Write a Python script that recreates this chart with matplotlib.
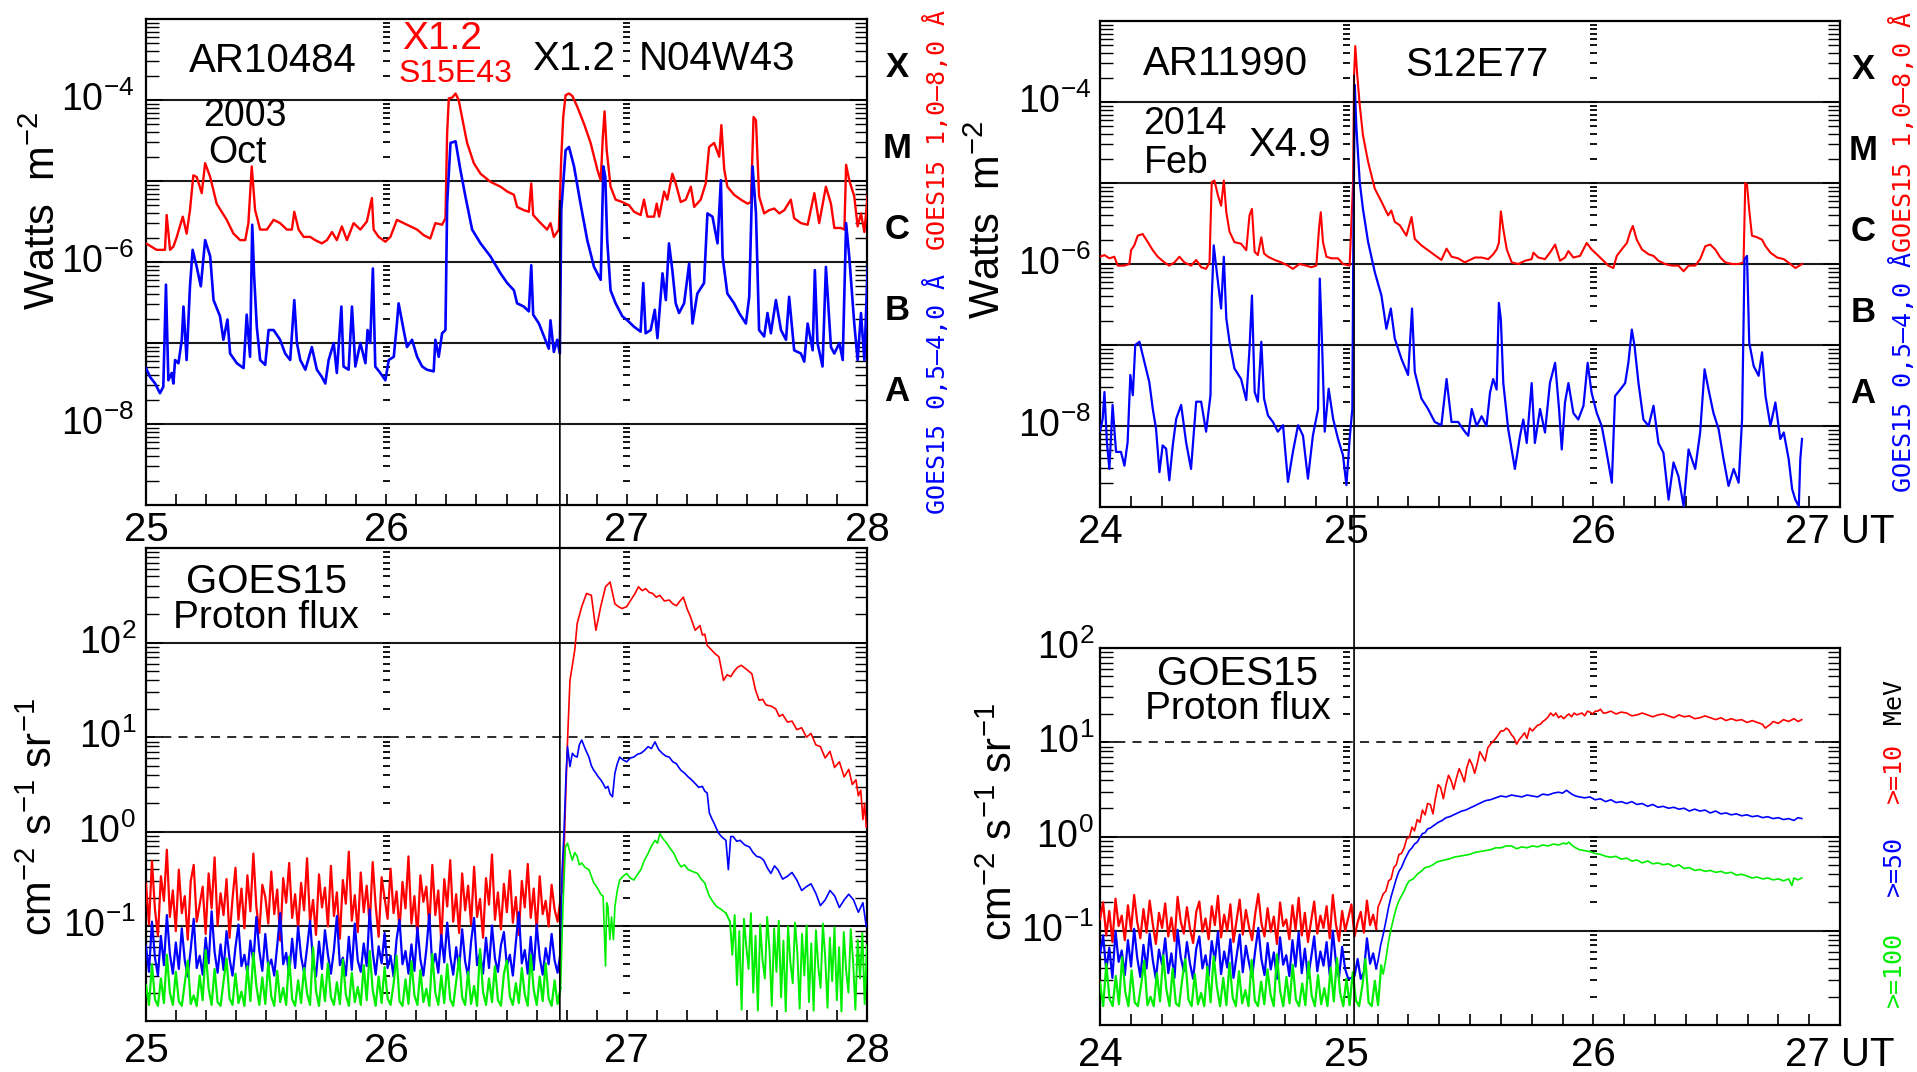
import numpy as np
import matplotlib.pyplot as plt
from matplotlib import transforms
from matplotlib.patches import ConnectionPatch
from matplotlib.ticker import LogLocator, NullFormatter, MultipleLocator

plt.rcParams['font.family'] = ['Liberation Sans', 'DejaVu Sans']
plt.rcParams['mathtext.fontset'] = 'custom'
plt.rcParams['mathtext.rm'] = 'Liberation Sans'
plt.rcParams['mathtext.it'] = 'Liberation Sans:italic'
plt.rcParams['mathtext.bf'] = 'Liberation Sans:bold'

RED, BLUE, GREEN = '#ff0000', '#0000ff', '#00ee00'

# ---------------- GOES15 X-ray flux, 2003 Oct 25-28 (log10 W m^-2) ----------------
tl_red_t = [25.000, 25.044, 25.079, 25.086, 25.100, 25.114, 25.128, 25.153, 25.169, 25.183,
            25.197, 25.211, 25.232, 25.246, 25.267, 25.294, 25.336, 25.364, 25.392, 25.413,
            25.426, 25.440, 25.454, 25.475, 25.503, 25.531, 25.558, 25.586, 25.607, 25.617,
            25.635, 25.656, 25.683, 25.704, 25.732, 25.753, 25.774, 25.794, 25.815, 25.836,
            25.864, 25.892, 25.919, 25.940, 25.947, 25.968, 25.996, 26.017, 26.044, 26.072,
            26.100, 26.128, 26.156, 26.183, 26.204, 26.232, 26.246, 26.253, 26.260, 26.274,
            26.288, 26.301, 26.315, 26.336, 26.364, 26.392, 26.433, 26.475, 26.503, 26.531,
            26.544, 26.572, 26.593, 26.603, 26.611, 26.642, 26.669, 26.683, 26.697, 26.718,
            26.728, 26.736, 26.746, 26.760, 26.774, 26.794, 26.822, 26.850, 26.878, 26.892,
            26.901, 26.908, 26.917, 26.933, 26.954, 26.982, 27.010, 27.031, 27.058, 27.072,
            27.086, 27.114, 27.125, 27.135, 27.156, 27.169, 27.190, 27.204, 27.225, 27.246,
            27.267, 27.281, 27.308, 27.329, 27.343, 27.364, 27.385, 27.394, 27.406, 27.419,
            27.447, 27.475, 27.503, 27.517, 27.528, 27.538, 27.551, 27.572, 27.593, 27.614,
            27.635, 27.656, 27.683, 27.697, 27.725, 27.753, 27.781, 27.801, 27.829, 27.850,
            27.864, 27.892, 27.906, 27.913, 27.926, 27.947, 27.961, 27.975, 27.989, 28.003]
tl_red = [-5.77, -5.85, -5.85, -5.42, -5.85, -5.81, -5.69, -5.44, -5.65, -5.36,
          -4.93, -4.95, -5.15, -4.78, -4.95, -5.28, -5.48, -5.65, -5.73, -5.73,
          -5.52, -4.82, -5.36, -5.60, -5.60, -5.48, -5.52, -5.60, -5.60, -5.38,
          -5.60, -5.69, -5.69, -5.73, -5.77, -5.73, -5.63, -5.73, -5.56, -5.73,
          -5.52, -5.60, -5.50, -5.21, -5.60, -5.69, -5.75, -5.69, -5.48, -5.52,
          -5.56, -5.60, -5.67, -5.71, -5.52, -5.54, -5.46, -4.41, -3.98, -3.97,
          -3.92, -4.00, -4.21, -4.53, -4.78, -4.91, -5.01, -5.07, -5.13, -5.17,
          -5.32, -5.36, -5.38, -5.03, -5.42, -5.52, -5.60, -5.52, -5.69, -5.60,
          -4.70, -4.21, -3.94, -3.92, -3.95, -4.08, -4.29, -4.53, -4.86, -4.99,
          -4.45, -4.14, -4.62, -5.07, -5.23, -5.26, -5.30, -5.38, -5.42, -5.23,
          -5.44, -5.44, -5.28, -5.44, -5.13, -5.23, -4.91, -5.03, -5.26, -5.23,
          -5.07, -5.32, -5.23, -5.03, -4.58, -4.53, -4.70, -4.31, -4.86, -5.07,
          -5.17, -5.23, -5.28, -5.26, -4.21, -4.25, -5.19, -5.40, -5.36, -5.34,
          -5.40, -5.36, -5.23, -5.46, -5.52, -5.54, -5.15, -5.52, -5.07, -5.28,
          -5.58, -5.58, -5.60, -4.80, -4.99, -5.19, -5.56, -5.40, -5.63, -5.17]

tl_blue_t = [25.000, 25.017, 25.038, 25.058, 25.072, 25.083, 25.093, 25.107, 25.114, 25.121,
             25.135, 25.149, 25.156, 25.169, 25.183, 25.194, 25.211, 25.228, 25.246, 25.267,
             25.281, 25.308, 25.322, 25.339, 25.350, 25.378, 25.406, 25.419, 25.433, 25.442,
             25.450, 25.461, 25.475, 25.496, 25.510, 25.531, 25.558, 25.579, 25.600, 25.617,
             25.628, 25.642, 25.663, 25.690, 25.711, 25.732, 25.746, 25.760, 25.781, 25.794,
             25.813, 25.822, 25.843, 25.857, 25.871, 25.892, 25.913, 25.922, 25.933, 25.944,
             25.954, 25.975, 25.996, 26.010, 26.031, 26.044, 26.051, 26.072, 26.086, 26.107,
             26.128, 26.149, 26.169, 26.197, 26.204, 26.218, 26.232, 26.246, 26.253, 26.267,
             26.288, 26.308, 26.329, 26.357, 26.392, 26.433, 26.475, 26.503, 26.531, 26.544,
             26.572, 26.593, 26.603, 26.611, 26.635, 26.656, 26.676, 26.683, 26.697, 26.711,
             26.722, 26.728, 26.746, 26.760, 26.781, 26.808, 26.836, 26.864, 26.892, 26.903,
             26.911, 26.919, 26.933, 26.954, 26.982, 27.003, 27.031, 27.058, 27.069, 27.079,
             27.100, 27.117, 27.128, 27.149, 27.163, 27.176, 27.190, 27.204, 27.218, 27.239,
             27.260, 27.274, 27.294, 27.322, 27.336, 27.357, 27.378, 27.392, 27.399, 27.419,
             27.447, 27.468, 27.496, 27.510, 27.524, 27.538, 27.551, 27.572, 27.586, 27.600,
             27.621, 27.642, 27.663, 27.676, 27.697, 27.725, 27.739, 27.753, 27.774, 27.783,
             27.794, 27.815, 27.829, 27.850, 27.864, 27.885, 27.899, 27.913, 27.926, 27.947,
             27.961, 27.975, 27.989, 28.003]
tl_blue = [-7.31, -7.42, -7.50, -7.62, -7.54, -6.28, -7.46, -7.37, -7.50, -7.21,
           -7.25, -6.96, -6.55, -7.21, -6.30, -5.85, -6.06, -6.30, -5.73, -5.93,
           -6.47, -6.67, -6.96, -6.71, -7.13, -7.25, -7.31, -6.65, -7.17, -5.54,
           -6.18, -6.80, -7.21, -7.27, -6.84, -6.84, -6.96, -7.13, -7.21, -6.47,
           -7.00, -7.21, -7.33, -7.05, -7.33, -7.42, -7.50, -7.21, -7.00, -7.37,
           -6.55, -7.29, -7.33, -6.55, -7.29, -7.00, -7.25, -6.84, -7.00, -6.08,
           -7.29, -7.37, -7.46, -7.21, -7.17, -6.76, -6.51, -6.84, -7.05, -6.96,
           -7.17, -7.29, -7.33, -7.35, -6.96, -7.17, -6.88, -6.84, -5.28, -4.53,
           -4.51, -4.86, -5.19, -5.60, -5.77, -5.93, -6.14, -6.26, -6.35, -6.51,
           -6.55, -6.61, -6.04, -6.65, -6.76, -6.92, -7.07, -6.72, -7.11, -6.96,
           -7.13, -5.36, -4.62, -4.58, -4.82, -5.28, -5.73, -6.06, -6.22, -4.82,
           -4.95, -5.73, -6.35, -6.51, -6.67, -6.72, -6.80, -6.86, -6.26, -6.88,
           -6.84, -6.59, -6.94, -6.14, -6.47, -5.77, -6.10, -6.51, -6.63, -6.51,
           -6.02, -6.76, -6.39, -6.26, -5.40, -5.44, -5.77, -4.99, -5.93, -6.39,
           -6.51, -6.63, -6.76, -6.43, -4.82, -5.40, -6.84, -6.92, -6.63, -6.88,
           -6.47, -6.84, -6.96, -6.43, -7.09, -7.13, -7.23, -6.76, -7.09, -6.10,
           -7.00, -7.29, -6.06, -7.05, -7.13, -7.00, -7.21, -5.52, -5.93, -6.76,
           -7.21, -6.63, -7.21, -6.06]

# ---------------- GOES15 X-ray flux, 2014 Feb 24-27 (log10 W m^-2) ----------------
tr_red_t = [24.000, 24.018, 24.038, 24.058, 24.072, 24.099, 24.119, 24.126, 24.139, 24.153,
            24.173, 24.194, 24.214, 24.234, 24.261, 24.281, 24.302, 24.322, 24.342, 24.369,
            24.390, 24.410, 24.430, 24.444, 24.453, 24.464, 24.478, 24.491, 24.502, 24.512,
            24.525, 24.545, 24.572, 24.593, 24.606, 24.616, 24.627, 24.640, 24.654, 24.665,
            24.681, 24.708, 24.735, 24.762, 24.782, 24.809, 24.836, 24.857, 24.877, 24.888,
            24.895, 24.904, 24.918, 24.938, 24.965, 24.985, 25.012, 25.026, 25.030, 25.035,
            25.043, 25.053, 25.066, 25.087, 25.114, 25.141, 25.168, 25.181, 25.195, 25.215,
            25.242, 25.263, 25.276, 25.303, 25.330, 25.357, 25.384, 25.405, 25.425, 25.452,
            25.479, 25.493, 25.520, 25.547, 25.574, 25.594, 25.608, 25.617, 25.625, 25.635,
            25.649, 25.669, 25.696, 25.723, 25.750, 25.757, 25.777, 25.804, 25.824, 25.845,
            25.865, 25.885, 25.899, 25.919, 25.946, 25.973, 25.993, 26.014, 26.034, 26.061,
            26.081, 26.095, 26.115, 26.136, 26.149, 26.160, 26.176, 26.197, 26.224, 26.244,
            26.264, 26.291, 26.318, 26.345, 26.366, 26.386, 26.413, 26.433, 26.454, 26.474,
            26.494, 26.515, 26.535, 26.562, 26.589, 26.609, 26.616, 26.623, 26.632, 26.643,
            26.664, 26.684, 26.698, 26.718, 26.745, 26.772, 26.799, 26.819, 26.846]
tr_red = [-5.91, -5.89, -5.93, -5.91, -6.02, -6.02, -6.00, -5.83, -5.77, -5.65,
          -5.63, -5.73, -5.83, -5.91, -5.98, -6.02, -5.98, -5.91, -5.98, -6.02,
          -5.95, -6.04, -6.06, -5.98, -4.99, -4.97, -5.15, -5.28, -4.97, -5.36,
          -5.60, -5.73, -5.75, -5.83, -5.40, -5.32, -5.85, -5.89, -5.67, -5.87,
          -5.91, -5.95, -5.98, -6.02, -6.06, -6.00, -6.02, -6.04, -6.02, -5.56,
          -5.36, -5.73, -5.91, -5.93, -5.93, -6.00, -6.02, -4.99, -3.67, -3.31,
          -3.67, -4.04, -4.41, -4.74, -5.07, -5.23, -5.40, -5.34, -5.48, -5.52,
          -5.65, -5.42, -5.69, -5.77, -5.83, -5.89, -5.95, -5.81, -5.91, -5.93,
          -5.98, -5.96, -5.92, -5.92, -5.94, -5.88, -5.82, -5.74, -5.35, -5.57,
          -5.82, -5.98, -6.00, -5.96, -5.94, -5.86, -5.92, -5.94, -5.86, -5.76,
          -5.96, -5.92, -5.84, -5.92, -5.90, -5.74, -5.82, -5.88, -5.94, -6.02,
          -6.05, -5.90, -5.82, -5.74, -5.61, -5.53, -5.70, -5.82, -5.88, -5.90,
          -5.96, -6.00, -6.02, -6.02, -6.09, -6.02, -6.02, -5.94, -5.78, -5.76,
          -5.82, -5.92, -5.98, -6.00, -6.00, -5.98, -5.00, -5.02, -5.33, -5.65,
          -5.67, -5.70, -5.78, -5.86, -5.92, -5.94, -6.00, -6.05, -6.00]

tr_blue_t = [24.000, 24.011, 24.018, 24.028, 24.038, 24.051, 24.065, 24.085, 24.099, 24.112,
             24.123, 24.133, 24.143, 24.160, 24.180, 24.200, 24.214, 24.227, 24.241, 24.254,
             24.268, 24.281, 24.295, 24.309, 24.329, 24.349, 24.369, 24.390, 24.410, 24.430,
             24.448, 24.453, 24.461, 24.475, 24.491, 24.502, 24.512, 24.525, 24.545, 24.572,
             24.593, 24.606, 24.616, 24.627, 24.640, 24.654, 24.665, 24.681, 24.701, 24.721,
             24.742, 24.762, 24.782, 24.803, 24.823, 24.843, 24.863, 24.884, 24.891, 24.900,
             24.911, 24.927, 24.945, 24.965, 24.985, 24.999, 25.012, 25.023, 25.027, 25.033,
             25.039, 25.053, 25.066, 25.087, 25.114, 25.141, 25.161, 25.179, 25.195, 25.222,
             25.249, 25.265, 25.276, 25.303, 25.330, 25.357, 25.384, 25.405, 25.425, 25.452,
             25.479, 25.493, 25.507, 25.527, 25.547, 25.567, 25.581, 25.594, 25.608, 25.617,
             25.625, 25.635, 25.655, 25.669, 25.682, 25.703, 25.716, 25.730, 25.750, 25.763,
             25.784, 25.804, 25.824, 25.845, 25.861, 25.872, 25.885, 25.899, 25.919, 25.939,
             25.960, 25.977, 25.993, 26.014, 26.034, 26.054, 26.075, 26.088, 26.109, 26.129,
             26.142, 26.156, 26.167, 26.183, 26.203, 26.224, 26.244, 26.264, 26.284, 26.305,
             26.325, 26.345, 26.366, 26.386, 26.413, 26.433, 26.451, 26.467, 26.487, 26.508,
             26.528, 26.548, 26.569, 26.589, 26.603, 26.613, 26.623, 26.632, 26.650, 26.670,
             26.684, 26.698, 26.718, 26.738, 26.758, 26.772, 26.792, 26.806, 26.819, 26.833,
             26.839, 26.846]
tr_blue = [-8.07, -7.91, -7.58, -8.20, -8.53, -7.74, -8.32, -8.32, -8.49, -8.20,
           -7.37, -7.62, -7.00, -6.96, -7.21, -7.46, -7.79, -8.03, -8.57, -8.24,
           -8.28, -8.67, -8.24, -7.91, -7.74, -8.20, -8.53, -7.70, -7.70, -8.07,
           -7.62, -6.43, -5.77, -6.14, -6.55, -5.91, -6.67, -6.96, -7.29, -7.42,
           -7.68, -7.05, -6.39, -7.58, -7.70, -6.96, -7.66, -7.87, -7.95, -8.07,
           -7.99, -8.69, -8.32, -7.99, -8.12, -8.65, -8.12, -7.79, -6.18, -6.96,
           -8.07, -7.54, -7.91, -8.16, -8.36, -8.73, -8.16, -7.79, -5.73, -3.79,
           -4.29, -4.99, -5.32, -5.73, -6.10, -6.39, -6.80, -6.55, -6.92, -7.17,
           -7.37, -6.55, -7.33, -7.66, -7.79, -7.95, -7.99, -7.42, -7.95, -7.95,
           -8.07, -8.12, -7.79, -8.00, -7.88, -8.00, -7.59, -7.42, -7.55, -6.48,
           -6.68, -7.47, -8.04, -8.29, -8.53, -8.12, -7.92, -8.21, -7.47, -8.21,
           -7.79, -8.08, -7.47, -7.22, -7.79, -8.29, -7.71, -7.47, -7.84, -7.92,
           -7.75, -7.22, -7.59, -7.84, -8.00, -8.33, -8.70, -7.63, -7.55, -7.47,
           -7.22, -6.81, -7.01, -7.47, -7.92, -8.00, -7.75, -8.21, -8.33, -8.91,
           -8.45, -8.62, -8.99, -8.29, -8.53, -8.08, -7.30, -7.55, -7.84, -8.04,
           -8.41, -8.74, -8.53, -8.70, -7.92, -5.94, -5.90, -6.97, -7.26, -7.38,
           -7.09, -7.63, -8.00, -7.71, -8.16, -8.08, -8.41, -8.78, -8.91, -8.99,
           -8.41, -8.16]

# ---------------- GOES15 proton flux, 2003 Oct (log10 cm^-2 s^-1 sr^-1) ----------------
bl_red_bg = [-0.55, -0.98, -0.31, -0.82, -1.10, -0.47, -0.73, -0.19, -0.90, -0.62, -1.05, -0.40, -0.86, -0.68, -1.14, -0.52, -0.35, -0.95, -0.77, -0.58,
             -1.08, -0.44, -0.81, -0.27, -0.99, -0.65, -0.88, -0.50, -1.12, -0.71, -0.38, -0.93, -0.60, -1.02, -0.46, -0.84, -0.23, -0.79, -1.07, -0.56,
             -0.69, -0.97, -0.42, -0.87, -0.61, -1.15, -0.49, -0.75, -0.33, -0.91, -0.66, -1.03, -0.54, -0.83, -0.28, -0.96, -0.72, -1.09, -0.45, -0.80,
             -0.59, -1.00, -0.36, -0.89, -0.64, -1.13, -0.51, -0.76, -0.21, -0.94, -0.67, -1.06, -0.43, -0.85, -0.57, -0.99, -0.32, -0.78, -1.11, -0.48,
             -0.70, -0.92, -0.39, -0.86, -0.63, -1.04, -0.53, -0.81, -0.26, -0.97, -0.68, -1.10, -0.46, -0.74, -0.58, -1.01, -0.35, -0.88, -0.62, -1.16,
             -0.50, -0.79, -0.30, -0.95, -0.66, -1.07, -0.44, -0.83, -0.57, -0.98, -0.37, -0.90, -0.71, -1.12, -0.49, -0.77, -0.24, -0.93, -0.64, -1.03,
             -0.55, -0.85, -0.41, -0.96, -0.69, -1.09, -0.52, -0.80, -0.34, -0.91, -0.60, -1.05, -0.47, -0.87, -0.73, -1.00, -0.56, -0.82, -0.95, -0.70]
bl_blue_bg = [-1.21, -1.48, -0.95, -1.33, -1.52, -1.10, -1.41, -0.88, -1.29, -1.50, -1.17, -1.45, -1.02, -1.36, -1.53, -1.24, -0.92, -1.44, -1.31, -1.51,
              -1.12, -1.39, -0.84, -1.27, -1.49, -1.19, -1.46, -1.05, -1.34, -1.52, -1.22, -0.98, -1.42, -1.30, -1.50, -1.15, -1.38, -0.90, -1.26, -1.47,
              -1.08, -1.43, -1.35, -1.52, -1.20, -0.86, -1.40, -1.28, -1.51, -1.13, -1.44, -1.00, -1.32, -1.49, -1.23, -0.94, -1.37, -1.53, -1.16, -1.45,
              -1.04, -1.30, -1.50, -1.25, -0.89, -1.41, -1.33, -1.52, -1.11, -1.46, -0.97, -1.36, -1.48, -1.18, -1.42, -0.82, -1.27, -1.51, -1.21, -1.39,
              -1.07, -1.44, -1.31, -1.53, -1.14, -0.93, -1.40, -1.26, -1.50, -1.19, -1.47, -1.01, -1.35, -1.52, -1.24, -0.87, -1.43, -1.29, -1.49, -1.09,
              -1.38, -0.96, -1.32, -1.51, -1.22, -1.45, -1.03, -1.37, -1.53, -1.16, -0.91, -1.41, -1.28, -1.50, -1.12, -1.44, -0.99, -1.34, -1.48, -1.20,
              -1.06, -1.42, -1.30, -1.52, -1.17, -0.85, -1.39, -1.25, -1.50, -1.11, -1.46, -0.98, -1.33, -1.51, -1.23, -1.40, -1.08, -1.36, -1.49, -1.27]
bl_green_bg = [-1.62, -1.83, -1.40, -1.77, -1.84, -1.55, -1.81, -1.30, -1.70, -1.83, -1.48, -1.79, -1.84, -1.60, -1.36, -1.82, -1.73, -1.84, -1.52, -1.78,
               -1.25, -1.66, -1.83, -1.45, -1.80, -1.84, -1.58, -1.34, -1.76, -1.83, -1.50, -1.81, -1.69, -1.84, -1.42, -1.79, -1.28, -1.63, -1.83, -1.54,
               -1.82, -1.38, -1.74, -1.84, -1.47, -1.80, -1.65, -1.83, -1.32, -1.77, -1.84, -1.57, -1.81, -1.44, -1.71, -1.83, -1.22, -1.68, -1.84, -1.51,
               -1.79, -1.39, -1.75, -1.83, -1.59, -1.82, -1.35, -1.72, -1.84, -1.49, -1.80, -1.64, -1.83, -1.41, -1.78, -1.26, -1.67, -1.84, -1.53, -1.81,
               -1.43, -1.76, -1.83, -1.61, -1.31, -1.79, -1.84, -1.56, -1.82, -1.37, -1.73, -1.83, -1.46, -1.80, -1.66, -1.84, -1.29, -1.70, -1.83, -1.52,
               -1.81, -1.40, -1.77, -1.84, -1.58, -1.33, -1.75, -1.83, -1.48, -1.82, -1.63, -1.84, -1.24, -1.69, -1.83, -1.55, -1.80, -1.42, -1.78, -1.84,
               -1.50, -1.36, -1.74, -1.83, -1.60, -1.81, -1.44, -1.72, -1.84, -1.30, -1.67, -1.83, -1.53, -1.79, -1.39, -1.76, -1.84, -1.57, -1.82, -1.65]
bl_quiet_span = (25.0, 26.725)

bl_red_ev_t = [26.735, 26.745, 26.754, 26.764, 26.784, 26.794, 26.813, 26.833, 26.853, 26.872,
               26.892, 26.912, 26.931, 26.951, 26.966, 26.981, 27.000, 27.020, 27.035, 27.049,
               27.064, 27.079, 27.094, 27.108, 27.123, 27.138, 27.157, 27.177, 27.192, 27.207,
               27.222, 27.236, 27.251, 27.266, 27.285, 27.305, 27.315, 27.325, 27.335, 27.354,
               27.369, 27.384, 27.403, 27.418, 27.433, 27.448, 27.462, 27.477, 27.492, 27.507,
               27.521, 27.536, 27.551, 27.566, 27.580, 27.600, 27.620, 27.635, 27.649, 27.669,
               27.688, 27.708, 27.728, 27.748, 27.767, 27.787, 27.806, 27.826, 27.846, 27.865,
               27.885, 27.905, 27.924, 27.939, 27.954, 27.964, 27.974, 27.983, 27.990, 27.997]
bl_red_ev = [-0.61, 0.27, 0.97, 1.60, 1.92, 2.20, 2.38, 2.52, 2.50, 2.13,
             2.38, 2.59, 2.64, 2.41, 2.38, 2.36, 2.38, 2.46, 2.52, 2.59,
             2.55, 2.57, 2.53, 2.52, 2.48, 2.50, 2.44, 2.45, 2.41, 2.39,
             2.44, 2.48, 2.36, 2.27, 2.13, 2.18, 2.08, 2.09, 1.97, 1.92,
             1.88, 1.85, 1.60, 1.66, 1.64, 1.70, 1.74, 1.76, 1.73, 1.70,
             1.67, 1.50, 1.39, 1.40, 1.34, 1.33, 1.30, 1.22, 1.24, 1.16,
             1.17, 1.08, 1.10, 1.00, 1.04, 0.92, 0.90, 0.78, 0.85, 0.68,
             0.74, 0.58, 0.66, 0.50, 0.55, 0.38, 0.44, 0.13, 0.30, 0.05]

bl_blue_ev_t = [26.731, 26.739, 26.748, 26.754, 26.764, 26.774, 26.784, 26.794, 26.803, 26.813,
                26.827, 26.843, 26.853, 26.863, 26.872, 26.882, 26.892, 26.902, 26.912, 26.922,
                26.931, 26.941, 26.951, 26.961, 26.971, 26.985, 27.000, 27.015, 27.030, 27.045,
                27.059, 27.074, 27.089, 27.103, 27.118, 27.133, 27.148, 27.163, 27.177, 27.192,
                27.207, 27.217, 27.226, 27.241, 27.256, 27.270, 27.285, 27.300, 27.315, 27.325,
                27.335, 27.344, 27.354, 27.364, 27.374, 27.384, 27.398, 27.413, 27.423, 27.433,
                27.443, 27.458, 27.472, 27.492, 27.511, 27.526, 27.541, 27.556, 27.570, 27.585,
                27.600, 27.615, 27.629, 27.649, 27.669, 27.688, 27.708, 27.728, 27.748, 27.767,
                27.787, 27.806, 27.826, 27.846, 27.866, 27.885, 27.905, 27.924, 27.944, 27.964,
                27.983, 27.997]
bl_blue_ev = [-0.44, -0.02, 0.62, 0.90, 0.69, 0.83, 0.80, 0.79, 0.92, 0.97,
              0.88, 0.79, 0.70, 0.65, 0.62, 0.58, 0.55, 0.51, 0.46, 0.48,
              0.40, 0.37, 0.62, 0.72, 0.79, 0.76, 0.74, 0.78, 0.79, 0.82,
              0.83, 0.86, 0.90, 0.88, 0.95, 0.87, 0.83, 0.80, 0.79, 0.74,
              0.72, 0.68, 0.65, 0.62, 0.58, 0.55, 0.51, 0.47, 0.48, 0.43,
              0.41, 0.20, 0.14, 0.09, 0.03, -0.02, -0.06, -0.09, -0.40, -0.05,
              -0.05, -0.10, -0.09, -0.14, -0.16, -0.22, -0.26, -0.27, -0.30, -0.38,
              -0.44, -0.36, -0.40, -0.50, -0.47, -0.43, -0.51, -0.62, -0.58, -0.55,
              -0.65, -0.78, -0.72, -0.62, -0.68, -0.80, -0.72, -0.66, -0.72, -0.85,
              -0.75, -1.00]

bl_green_ev_t = [26.735, 26.745, 26.754, 26.764, 26.774, 26.784, 26.794, 26.803, 26.813, 26.828,
                 26.843, 26.853, 26.863, 26.872, 26.882, 26.892, 26.902, 26.912, 26.917, 26.922,
                 26.930, 26.937, 26.945, 26.951, 26.961, 26.971, 26.985, 27.000, 27.015, 27.030,
                 27.045, 27.059, 27.074, 27.089, 27.103, 27.118, 27.128, 27.138, 27.153, 27.167,
                 27.182, 27.197, 27.211, 27.226, 27.241, 27.256, 27.275, 27.295, 27.310, 27.325,
                 27.335, 27.344, 27.359, 27.374, 27.393, 27.413]
bl_green_ev = [-0.79, -0.16, -0.12, -0.22, -0.30, -0.22, -0.26, -0.35, -0.33, -0.38,
               -0.40, -0.47, -0.54, -0.57, -0.61, -0.66, -0.68, -1.42, -0.75, -0.79,
               -1.14, -0.90, -1.14, -0.79, -0.62, -0.51, -0.47, -0.44, -0.49, -0.51,
               -0.45, -0.40, -0.30, -0.23, -0.15, -0.09, -0.12, -0.02, -0.08, -0.12,
               -0.18, -0.23, -0.31, -0.37, -0.35, -0.40, -0.42, -0.44, -0.50, -0.54,
               -0.62, -0.68, -0.74, -0.79, -0.82, -0.86]
bl_green_tail = [-0.95, -1.30, -0.88, -1.62, -1.05, -1.88, -0.92, -1.21, -1.45, -0.86, -1.70, -1.10, -1.89, -0.98, -1.35,
                 -1.55, -0.90, -1.25, -1.84, -1.02, -1.48, -0.94, -1.75, -1.15, -1.90, -1.00, -1.38, -1.60, -0.96, -1.28,
                 -1.87, -1.08, -1.52, -0.99, -1.80, -1.18, -1.89, -1.04, -1.42, -1.65, -0.97, -1.33, -1.86, -1.12, -1.58,
                 -1.01, -1.78, -1.22, -1.90, -1.06, -1.46, -1.70, -1.03, -1.36, -1.88, -1.14, -1.55, -1.07, -1.82, -1.20]
bl_green_tail_span = (27.43, 28.0)

# ---------------- GOES15 proton flux, 2014 Feb (log10 cm^-2 s^-1 sr^-1) ----------------
br_red_bg = [-0.88, -0.70, -1.05, -0.79, -1.12, -0.66, -0.95, -0.84, -1.10, -0.73, -0.99, -0.62, -0.91, -1.08, -0.77, -1.02, -0.68, -0.93, -1.14, -0.81,
             -0.97, -0.71, -1.06, -0.86, -1.11, -0.64, -0.90, -1.03, -0.75, -0.98, -1.13, -0.80, -0.69, -1.01, -0.87, -1.09, -0.74, -0.94, -0.63, -1.07,
             -0.83, -1.00, -0.72, -1.12, -0.89, -0.67, -1.04, -0.78, -0.96, -1.10, -0.82, -0.61, -0.92, -1.06, -0.76, -1.01, -0.85, -1.14, -0.70, -0.95,
             -0.88, -1.09, -0.73, -0.99, -0.65, -1.05, -0.81, -1.12, -0.90, -0.69, -1.03, -0.84, -0.97, -0.74, -1.08, -0.62, -0.93, -1.11, -0.79, -1.00,
             -0.86, -0.72, -1.06, -0.91, -0.80, -1.02, -0.68, -0.94, -0.83, -0.98]
br_blue_bg = [-1.25, -1.05, -1.42, -1.18, -1.50, -1.00, -1.33, -1.21, -1.47, -1.10, -1.38, -0.98, -1.29, -1.49, -1.15, -1.40, -1.03, -1.31, -1.51, -1.20,
              -1.36, -1.08, -1.45, -1.24, -1.50, -0.99, -1.28, -1.43, -1.12, -1.35, -1.51, -1.19, -1.06, -1.40, -1.26, -1.48, -1.11, -1.32, -1.01, -1.46,
              -1.22, -1.39, -1.09, -1.50, -1.27, -1.04, -1.44, -1.16, -1.34, -1.49, -1.21, -0.97, -1.30, -1.47, -1.13, -1.41, -1.23, -1.51, -1.07, -1.36,
              -1.26, -1.48, -1.10, -1.38, -1.02, -1.45, -1.19, -1.50, -1.29, -1.06, -1.43, -1.22, -1.37, -1.12, -1.47, -1.00, -1.33, -1.50, -1.17, -1.41,
              -1.51, -1.50, -1.48, -1.30, -1.51, -1.44, -1.08, -1.35, -1.24, -1.40]
br_green_bg = [-1.55, -1.80, -1.35, -1.72, -1.80, -1.48, -1.78, -1.28, -1.65, -1.80, -1.42, -1.76, -1.80, -1.58, -1.32, -1.79, -1.70, -1.80, -1.45, -1.75,
               -1.26, -1.62, -1.80, -1.40, -1.77, -1.80, -1.52, -1.30, -1.73, -1.80, -1.46, -1.78, -1.66, -1.80, -1.38, -1.76, -1.27, -1.60, -1.80, -1.50,
               -1.79, -1.34, -1.71, -1.80, -1.43, -1.77, -1.63, -1.80, -1.31, -1.74, -1.80, -1.54, -1.78, -1.41, -1.68, -1.80, -1.25, -1.64, -1.80, -1.49,
               -1.77, -1.36, -1.73, -1.80, -1.56, -1.79, -1.33, -1.69, -1.80, -1.47, -1.78, -1.61, -1.80, -1.39, -1.75, -1.29, -1.66, -1.80, -1.51, -1.79,
               -1.44, -1.74, -1.80, -1.59, -1.30, -1.76, -1.80, -1.53, -1.79, -1.37]
br_quiet_span = (24.0, 25.12)
br_green_quiet_span = (24.0, 25.14)

br_red_ev_t = [25.127, 25.138, 25.148, 25.159, 25.170, 25.180, 25.191, 25.201, 25.212, 25.222,
               25.233, 25.244, 25.254, 25.265, 25.275, 25.286, 25.297, 25.307, 25.318, 25.328,
               25.339, 25.350, 25.360, 25.371, 25.381, 25.392, 25.403, 25.413, 25.424, 25.434,
               25.445, 25.456, 25.466, 25.477, 25.487, 25.498, 25.509, 25.519, 25.530, 25.540,
               25.551, 25.561, 25.572, 25.583, 25.594, 25.604, 25.615, 25.625, 25.636, 25.647,
               25.657, 25.668, 25.678, 25.689, 25.700, 25.710, 25.721, 25.731, 25.742, 25.753,
               25.763, 25.774, 25.785, 25.795, 25.806, 25.817, 25.827, 25.838, 25.848, 25.859,
               25.869, 25.880, 25.891, 25.901, 25.912, 25.922, 25.933, 25.944, 25.954, 25.965,
               25.976, 25.986, 25.997, 26.008, 26.018, 26.029, 26.040, 26.050, 26.071, 26.092,
               26.113, 26.135, 26.156, 26.177, 26.198, 26.220, 26.241, 26.262, 26.283, 26.305,
               26.326, 26.347, 26.368, 26.389, 26.411, 26.432, 26.453, 26.474, 26.496, 26.517,
               26.538, 26.559, 26.580, 26.601, 26.623, 26.644, 26.665, 26.686, 26.697, 26.707,
               26.718, 26.729, 26.750, 26.771, 26.792, 26.813, 26.830, 26.845]
br_red_ev = [-0.75, -0.68, -0.61, -0.58, -0.47, -0.45, -0.33, -0.30, -0.19, -0.18,
             -0.12, -0.02, -0.01, 0.10, 0.06, 0.18, 0.15, 0.28, 0.23, 0.35,
             0.34, 0.24, 0.41, 0.55, 0.52, 0.40, 0.55, 0.65, 0.59, 0.50,
             0.62, 0.72, 0.66, 0.58, 0.73, 0.82, 0.76, 0.67, 0.78, 0.90,
             0.85, 0.80, 0.94, 0.98, 1.01, 1.04, 1.08, 1.12, 1.12, 1.15,
             1.13, 1.08, 1.05, 0.98, 1.03, 1.06, 1.10, 1.04, 1.15, 1.12,
             1.15, 1.18, 1.19, 1.22, 1.24, 1.27, 1.31, 1.28, 1.31, 1.26,
             1.28, 1.25, 1.28, 1.30, 1.27, 1.31, 1.29, 1.30, 1.31, 1.28,
             1.33, 1.32, 1.30, 1.33, 1.33, 1.35, 1.31, 1.31, 1.33, 1.30,
             1.32, 1.31, 1.28, 1.29, 1.31, 1.29, 1.27, 1.29, 1.30, 1.28,
             1.26, 1.29, 1.27, 1.28, 1.25, 1.26, 1.28, 1.26, 1.24, 1.26,
             1.23, 1.25, 1.23, 1.24, 1.21, 1.23, 1.21, 1.19, 1.15, 1.17,
             1.19, 1.22, 1.20, 1.24, 1.22, 1.25, 1.22, 1.24]

br_blue_ev_t = [25.127, 25.138, 25.148, 25.159, 25.170, 25.180, 25.191, 25.201, 25.212, 25.222,
                25.233, 25.244, 25.254, 25.265, 25.275, 25.286, 25.297, 25.307, 25.318, 25.328,
                25.339, 25.355, 25.371, 25.387, 25.403, 25.418, 25.434, 25.450, 25.466, 25.482,
                25.498, 25.514, 25.530, 25.546, 25.562, 25.583, 25.604, 25.625, 25.647, 25.668,
                25.689, 25.710, 25.731, 25.752, 25.774, 25.795, 25.816, 25.838, 25.859, 25.875,
                25.891, 25.902, 25.912, 25.928, 25.944, 25.965, 25.986, 26.007, 26.029, 26.050,
                26.071, 26.092, 26.113, 26.135, 26.156, 26.177, 26.198, 26.220, 26.241, 26.262,
                26.283, 26.305, 26.326, 26.347, 26.368, 26.389, 26.411, 26.432, 26.453, 26.474,
                26.496, 26.517, 26.538, 26.559, 26.580, 26.601, 26.623, 26.644, 26.665, 26.686,
                26.707, 26.729, 26.750, 26.771, 26.792, 26.813, 26.830, 26.845]
br_blue_ev = [-1.32, -1.15, -1.04, -0.90, -0.75, -0.64, -0.54, -0.45, -0.37, -0.33,
              -0.26, -0.20, -0.15, -0.12, -0.08, -0.06, -0.01, 0.03, 0.04, 0.08,
              0.09, 0.12, 0.15, 0.17, 0.20, 0.21, 0.23, 0.25, 0.27, 0.28,
              0.30, 0.32, 0.34, 0.36, 0.38, 0.39, 0.41, 0.43, 0.42, 0.44,
              0.43, 0.42, 0.44, 0.43, 0.42, 0.45, 0.44, 0.46, 0.47, 0.46,
              0.49, 0.47, 0.45, 0.43, 0.42, 0.41, 0.42, 0.39, 0.40, 0.37,
              0.39, 0.36, 0.37, 0.35, 0.37, 0.34, 0.35, 0.32, 0.34, 0.31,
              0.32, 0.30, 0.31, 0.29, 0.30, 0.27, 0.29, 0.27, 0.28, 0.25,
              0.27, 0.24, 0.25, 0.23, 0.24, 0.22, 0.23, 0.21, 0.22, 0.20,
              0.21, 0.19, 0.20, 0.18, 0.19, 0.17, 0.20, 0.19]

br_green_ev_t = [25.148, 25.159, 25.170, 25.180, 25.191, 25.201, 25.212, 25.222, 25.233, 25.244,
                 25.254, 25.270, 25.286, 25.302, 25.318, 25.334, 25.350, 25.366, 25.381, 25.397,
                 25.413, 25.434, 25.456, 25.477, 25.498, 25.519, 25.540, 25.562, 25.583, 25.604,
                 25.625, 25.647, 25.668, 25.689, 25.710, 25.731, 25.753, 25.774, 25.795, 25.816,
                 25.838, 25.859, 25.880, 25.891, 25.901, 25.912, 25.928, 25.944, 25.965, 25.986,
                 26.007, 26.029, 26.050, 26.071, 26.092, 26.113, 26.135, 26.156, 26.177, 26.198,
                 26.220, 26.241, 26.262, 26.283, 26.305, 26.326, 26.347, 26.368, 26.389, 26.411,
                 26.432, 26.453, 26.474, 26.496, 26.517, 26.538, 26.559, 26.580, 26.601, 26.623,
                 26.644, 26.665, 26.686, 26.707, 26.729, 26.750, 26.771, 26.792, 26.805, 26.813,
                 26.830, 26.845]
br_green_ev = [-1.46, -1.30, -1.11, -0.98, -0.86, -0.76, -0.68, -0.63, -0.58, -0.51,
               -0.47, -0.45, -0.40, -0.37, -0.33, -0.32, -0.30, -0.27, -0.26, -0.25,
               -0.24, -0.22, -0.21, -0.20, -0.19, -0.17, -0.16, -0.15, -0.14, -0.12,
               -0.12, -0.10, -0.10, -0.13, -0.11, -0.12, -0.10, -0.11, -0.09, -0.10,
               -0.08, -0.09, -0.07, -0.08, -0.06, -0.09, -0.12, -0.14, -0.15, -0.16,
               -0.18, -0.19, -0.21, -0.22, -0.21, -0.24, -0.23, -0.26, -0.25, -0.28,
               -0.26, -0.29, -0.28, -0.30, -0.29, -0.32, -0.30, -0.34, -0.33, -0.36,
               -0.35, -0.37, -0.36, -0.38, -0.37, -0.39, -0.38, -0.41, -0.40, -0.42,
               -0.44, -0.43, -0.45, -0.44, -0.46, -0.45, -0.47, -0.45, -0.52, -0.44,
               -0.46, -0.44]

# flare onset times marked by the vertical lines
event_oct = 26.722
event_feb = 25.030

# ---------------- figure layout (pixel boxes) ----------------
W, H = 1917, 1072
fig = plt.figure(figsize=(W / 100, H / 100), dpi=100)


def fx(x):
    return x / W


def fy(y):
    return 1 - y / H


def px_box(x0, y0, x1, y1):
    return [x0 / W, 1 - y1 / H, (x1 - x0) / W, (y1 - y0) / H]


ax_tl = fig.add_axes(px_box(146, 19, 867, 505))
ax_tr = fig.add_axes(px_box(1100, 21, 1840, 507))
ax_bl = fig.add_axes(px_box(146, 548, 867, 1021))
ax_br = fig.add_axes(px_box(1100, 648, 1840, 1025))


def setup(ax, xlim, ylim, days, xlabels, solid, dashed=(), columns=(), pad=5):
    ax.set_xlim(*xlim)
    ax.set_yscale('log')
    ax.set_ylim(*ylim)
    for sp in ax.spines.values():
        sp.set_linewidth(1.6)
    ax.set_xticks(days)
    ax.set_xticklabels(xlabels)
    ax.xaxis.set_minor_locator(MultipleLocator(0.125))
    ax.yaxis.set_major_locator(LogLocator(base=10, numticks=50))
    ax.yaxis.set_minor_locator(LogLocator(base=10, subs=np.arange(2, 10), numticks=50))
    ax.yaxis.set_minor_formatter(NullFormatter())
    ax.tick_params(axis='x', which='both', direction='in', length=8, width=1.2,
                   top=False, labelsize=29, pad=pad)
    ax.tick_params(axis='y', which='major', direction='in', length=12, width=1.2,
                   right=True, labelleft=False)
    ax.tick_params(axis='y', which='minor', direction='in', length=9, width=1.0, right=True)
    for v in solid:
        ax.axhline(v, color='#1a1a1a', lw=1.5, zorder=1)
    for v in dashed:
        ax.axhline(v, color='#1a1a1a', lw=1.3, ls=(0, (5, 4)), zorder=1)
    # rows of short ticks along the inner day boundaries
    lo, hi = np.log10(ylim)
    marks = [m * 10.0 ** e for e in range(int(np.floor(lo)), int(np.ceil(hi))) for m in range(1, 10)]
    marks = [m for m in marks if ylim[0] < m < ylim[1]]
    for d in columns:
        ax.hlines(marks, d - 0.014, d + 0.014, color='k', lw=1.3, zorder=1)


def decade_labels(ax, exps, right_px):
    tr = transforms.blended_transform_factory(fig.transFigure, ax.transData)
    tr = transforms.offset_copy(tr, fig=fig, x=0, y=-11, units='dots')
    for e in exps:
        ax.text(fx(right_px), 10.0 ** e, r'$10^{%d}$' % e, transform=tr,
                ha='right', va='baseline', fontsize=27)


def class_letters(ax, x_px):
    tr = transforms.blended_transform_factory(fig.transFigure, ax.transData)
    for k, letter in zip(range(-4, -9, -1), 'XMCBA'):
        ax.text(fx(x_px), 10.0 ** (k + 0.4), letter, transform=tr,
                ha='center', va='center', fontsize=25, fontweight='bold')


def side_text(x_px, y_px, s, color, size=18):
    fig.text(fx(x_px), fy(y_px), s, rotation=90, ha='center', va='bottom',
             color=color, family='DejaVu Sans Mono', fontsize=size)


def lg(v):
    return 10.0 ** np.asarray(v, dtype=float)


# ---------------- X-ray panels ----------------
setup(ax_tl, (25, 28), (1e-9, 1e-3), [25, 26, 27, 28], ['25', '26', '27', '28'],
      solid=[1e-4, 1e-5, 1e-6, 1e-7, 1e-8], columns=[26, 27], pad=4)
setup(ax_tr, (24, 27), (1e-9, 1e-3), [24, 25, 26, 27], ['24', '25', '26', '27 UT'],
      solid=[1e-4, 1e-5, 1e-6, 1e-7, 1e-8], columns=[25, 26], pad=4)

ax_tl.plot(tl_red_t, lg(tl_red), color=RED, lw=1.7, zorder=3)
ax_tl.plot(tl_blue_t, lg(tl_blue), color=BLUE, lw=1.9, zorder=3)
ax_tr.plot(tr_red_t, lg(tr_red), color=RED, lw=1.5, zorder=3)
ax_tr.plot(tr_blue_t, lg(tr_blue), color=BLUE, lw=1.6, zorder=3)

decade_labels(ax_tl, [-4, -6, -8], 134)
decade_labels(ax_tr, [-4, -6, -8], 1091)
class_letters(ax_tl, 897)
class_letters(ax_tr, 1863)

side_text(937, 514, 'GOES15 0,5—4,0 Å', BLUE)
side_text(937, 250, 'GOES15 1,0—8,0 Å', RED)
side_text(1903, 492, 'GOES15 0,5—4,0 Å', BLUE)
side_text(1903, 252, 'GOES15 1,0—8,0 Å', RED)

fig.text(fx(44), fy(211), 'Watts  m$^{-2}$', rotation=90, ha='center', va='center', fontsize=30)
fig.text(fx(989), fy(220), 'Watts  m$^{-2}$', rotation=90, ha='center', va='center', fontsize=30)

fig.text(fx(273), fy(61), 'AR10484', ha='center', va='center', fontsize=29)
fig.text(fx(442), fy(39), 'X1.2', ha='center', va='center', fontsize=28, color=RED)
fig.text(fx(455), fy(74), 'S15E43', ha='center', va='center', fontsize=23, color=RED)
fig.text(fx(574), fy(59), 'X1.2', ha='center', va='center', fontsize=29)
fig.text(fx(717), fy(59), 'N04W43', ha='center', va='center', fontsize=29)
fig.text(fx(245), fy(116), '2003', ha='center', va='center', fontsize=27)
fig.text(fx(237), fy(153), 'Oct', ha='center', va='center', fontsize=27)

fig.text(fx(1225), fy(64), 'AR11990', ha='center', va='center', fontsize=29)
fig.text(fx(1477), fy(65), 'S12E77', ha='center', va='center', fontsize=29)
fig.text(fx(1185), fy(124), '2014', ha='center', va='center', fontsize=27)
fig.text(fx(1176), fy(163), 'Feb', ha='center', va='center', fontsize=27)
fig.text(fx(1289), fy(145), 'X4.9', ha='center', va='center', fontsize=29)

# ---------------- proton panels ----------------
setup(ax_bl, (25, 28), (1e-2, 1e3), [25, 26, 27, 28], ['25', '26', '27', '28'],
      solid=[1e2, 1e0, 1e-1], dashed=[1e1], columns=[26, 27], pad=8)
setup(ax_br, (24, 27), (1e-2, 1e2), [24, 25, 26, 27], ['24', '25', '26', '27 UT'],
      solid=[1e0, 1e-1], dashed=[1e1], columns=[25, 26], pad=8)


def proton_curve(ax, bg, span, ev_t, ev, col, tail=None):
    t_bg = np.linspace(span[0], span[1], len(bg))
    # quiet-time background is a dense noisy band, drawn a little heavier
    ax.plot(t_bg, lg(bg), color=col, lw=1.6, zorder=3)
    t = np.concatenate([t_bg[-1:], ev_t])
    v = np.concatenate([np.asarray(bg)[-1:], ev])
    ax.plot(t, lg(v), color=col, lw=1.2, zorder=3)
    if tail is not None:
        tt = np.concatenate([t[-1:], np.linspace(tail[0][0], tail[0][1], len(tail[1]))])
        tv = np.concatenate([v[-1:], tail[1]])
        ax.plot(tt, lg(tv), color=col, lw=1.4, zorder=3)


proton_curve(ax_bl, bl_red_bg, bl_quiet_span, bl_red_ev_t, bl_red_ev, RED)
proton_curve(ax_bl, bl_blue_bg, bl_quiet_span, bl_blue_ev_t, bl_blue_ev, BLUE)
proton_curve(ax_bl, bl_green_bg, bl_quiet_span, bl_green_ev_t, bl_green_ev, GREEN,
             tail=(bl_green_tail_span, bl_green_tail))

proton_curve(ax_br, br_red_bg, br_quiet_span, br_red_ev_t, br_red_ev, RED)
proton_curve(ax_br, br_blue_bg, br_quiet_span, br_blue_ev_t, br_blue_ev, BLUE)
proton_curve(ax_br, br_green_bg, br_green_quiet_span, br_green_ev_t, br_green_ev, GREEN)

decade_labels(ax_bl, [2, 1, 0, -1], 136)
decade_labels(ax_br, [2, 1, 0, -1], 1094)

fig.text(fx(41), fy(817), 'cm$^{-2}$ s$^{-1}$ sr$^{-1}$', rotation=90, ha='center', va='center', fontsize=30)
fig.text(fx(1001), fy(822), 'cm$^{-2}$ s$^{-1}$ sr$^{-1}$', rotation=90, ha='center', va='center', fontsize=30)

fig.text(fx(266), fy(582), 'GOES15', ha='center', va='center', fontsize=29)
fig.text(fx(266), fy(618), 'Proton flux', ha='center', va='center', fontsize=28)
fig.text(fx(1237), fy(674), 'GOES15', ha='center', va='center', fontsize=29)
fig.text(fx(1238), fy(709), 'Proton flux', ha='center', va='center', fontsize=28)

side_text(1894, 1007, '>=100', GREEN)
side_text(1894, 896, '>=50', BLUE)
side_text(1894, 803, '>=10', RED)
side_text(1894, 724, 'MeV', 'k')

# flare onset lines running from the X-ray curve down through the proton panel
for ax_top, ax_bot, t0, red_t, red_v in [(ax_tl, ax_bl, event_oct, tl_red_t, tl_red),
                                         (ax_tr, ax_br, event_feb, tr_red_t, tr_red)]:
    y_top = 10.0 ** np.interp(t0, red_t, red_v)
    con = ConnectionPatch(xyA=(t0, y_top), coordsA=ax_top.transData,
                          xyB=(t0, ax_bot.get_ylim()[0]), coordsB=ax_bot.transData,
                          color='k', lw=1.2, zorder=5)
    fig.add_artist(con)

fig.savefig('out.png', dpi=100)
